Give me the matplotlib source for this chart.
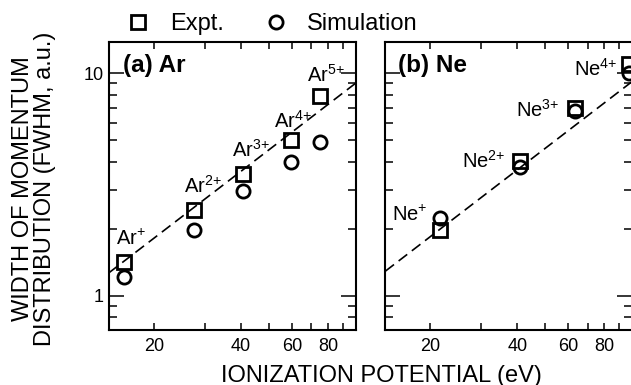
import numpy as np
import matplotlib.pyplot as plt
from matplotlib.lines import Line2D

plt.rcParams['font.family'] = 'Liberation Sans'
plt.rcParams['mathtext.fontset'] = 'custom'
plt.rcParams['mathtext.rm'] = 'Liberation Sans'
plt.rcParams['mathtext.default'] = 'regular'

# Ar: ionization potential (eV) and momentum width (FWHM, a.u.)
ar_ip = [15.76, 27.63, 40.74, 59.81, 75.02]
ar_expt = [1.42, 2.43, 3.52, 5.02, 7.91]
ar_sim = [1.21, 1.98, 2.94, 4.01, 4.93]
ar_labels = ['Ar$^{{+}}$', 'Ar$^{2{+}}$', 'Ar$^{3{+}}$', 'Ar$^{4{+}}$', 'Ar$^{5{+}}$']

# Ne
ne_ip = [21.56, 40.96, 63.45, 97.12]
ne_expt = [1.97, 4.04, 6.97, 11.0]
ne_sim = [2.23, 3.80, 6.80, 10.0]
ne_labels = ['Ne$^{{+}}$', 'Ne$^{2{+}}$', 'Ne$^{3{+}}$', 'Ne$^{4{+}}$']

# linear fits W = c * IP
ar_fit = 0.0905
ne_fit = 0.092

xlim = (14, 100)
ylim = (0.7, 13.9)

fig = plt.figure(figsize=(6.31, 3.85), dpi=100)
ax1 = fig.add_axes([109 / 631, 55 / 385, 247 / 631, 288.5 / 385])
ax2 = fig.add_axes([385.4 / 631, 55 / 385, 247 / 631, 288.5 / 385])

mk = dict(ms=9.5, mew=2.0, mfc='none', mec='black', ls='none', clip_on=False, zorder=3)


def setup(ax, show_ylabels):
    ax.set_xscale('log')
    ax.set_yscale('log')
    ax.set_xlim(*xlim)
    ax.set_ylim(*ylim)
    ax.set_xticks([20, 30, 40, 50, 60, 70, 80, 90])
    ax.set_xticklabels(['20', '', '40', '', '60', '', '80', ''])
    ax.xaxis.set_minor_locator(plt.NullLocator())
    ax.set_yticks([1, 10])
    ax.set_yticks([0.7, 0.8, 0.9, 2, 3, 4, 5, 6, 7, 8, 9], minor=True)
    ax.yaxis.set_minor_formatter(plt.NullFormatter())
    if show_ylabels:
        ax.set_yticklabels(['1', '10'])
    else:
        ax.set_yticklabels([])
    ax.tick_params(axis='x', which='major', direction='in', length=5, width=1.1,
                   top=True, bottom=True, labelsize=13, pad=6)
    ax.tick_params(axis='y', which='major', direction='in', length=10.5, width=1.1,
                   left=True, right=True, labelsize=13, pad=4)
    ax.tick_params(axis='y', which='minor', direction='in', length=5.5, width=1.1,
                   left=True, right=True)
    for s in ax.spines.values():
        s.set_linewidth(1.5)


setup(ax1, True)
setup(ax2, False)

xx = np.array(xlim)
ax1.plot(xx, ar_fit * xx, color='black', lw=1.2, dashes=(6.5, 3.5))
ax1.plot(ar_ip, ar_expt, marker='s', **mk)
ax1.plot(ar_ip, ar_sim, marker='o', **mk)

ar_dx = [5, 6, 5.5, 1, 4.5]
ar_dy = [12, 12, 12.5, 8.5, 10.5]
for x, y, lab, dx, dy in zip(ar_ip, ar_expt, ar_labels, ar_dx, ar_dy):
    ax1.annotate(lab, (x, y), xytext=(dx, dy), textcoords='offset points',
                 ha='center', va='baseline', fontsize=14.5)

ax2.plot(xx, ne_fit * xx, color='black', lw=1.2, dashes=(6.5, 3.5))
ax2.plot(ne_ip, ne_expt, marker='s', **mk)
ax2.plot(ne_ip, ne_sim, marker='o', **mk)

ne_dx = [-8.6, -10.8, -11.3, -8.4]
ne_dy = [6.7, -5.3, -6, -8.4]
for x, y, lab, dx, dy in zip(ne_ip, ne_expt, ne_labels, ne_dx, ne_dy):
    ax2.annotate(lab, (x, y), xytext=(dx, dy), textcoords='offset points',
                 ha='right', va='baseline', fontsize=14.5)

ax1.text(0.057, 0.895, '(a) Ar', transform=ax1.transAxes, fontsize=17.5,
         fontweight='bold', va='baseline', ha='left')
ax2.text(0.051, 0.895, '(b) Ne', transform=ax2.transAxes, fontsize=17.5,
         fontweight='bold', va='baseline', ha='left')

# axis labels
fig.text(0.6046, 0.009, 'IONIZATION POTENTIAL (eV)', ha='center', va='baseline', fontsize=17)
fig.text(23.3 / 631, 0.51, 'WIDTH OF MOMENTUM', rotation=90, ha='center', va='center', fontsize=17)
fig.text(45 / 631, 0.51, 'DISTRIBUTION (FWHM, a.u.)', rotation=90, ha='center', va='center', fontsize=17)

# legend
handles = [
    Line2D([], [], marker='s', ms=9.5, mew=2.0, mfc='none', mec='black', ls='none'),
    Line2D([], [], marker='o', ms=9.5, mew=2.0, mfc='none', mec='black', ls='none'),
]
fig.legend(handles, ['Expt.', 'Simulation'], loc='center left',
           bbox_to_anchor=(126 / 631, 1 - 24 / 385), ncol=2, frameon=False,
           fontsize=17, handlelength=1.0, handletextpad=0.85, columnspacing=1.7,
           borderpad=0, borderaxespad=0)

fig.savefig('out.png', dpi=100)
